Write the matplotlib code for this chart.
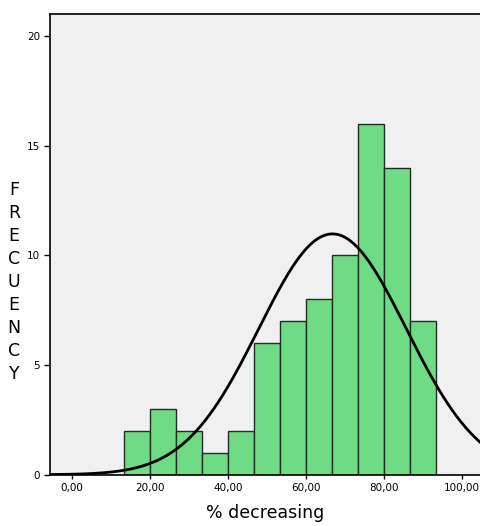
import numpy as np
import matplotlib
matplotlib.use("Agg")
import matplotlib.pyplot as plt

# Data
bin_edges = [40/3 + i * 20/3 for i in range(13)]
counts = [2, 3, 2, 1, 2, 6, 7, 8, 10, 16, 14, 7]
n_total = sum(counts)
mean_val = 66.8
sd_val = 18.9
xtick_vals = [0, 20, 40, 60, 80, 100]
xtick_labels = ["0,00", "20,00", "40,00", "60,00", "80,00", "100,00"]
ytick_vals = [0, 5, 10, 15, 20]
ylabel_letters = list("FRECUENCY")

W, H = 480, 526
fig = plt.figure(figsize=(W/100, H/100), dpi=100)
fig.patch.set_facecolor("white")
ax = fig.add_axes([50/W, (H-474.7)/H, (480-50)/W, (474.7-14)/H])
ax.set_facecolor("#f0f0f0")

widths = np.diff(bin_edges)
ax.bar(bin_edges[:-1], counts, width=widths, align="edge",
       color="#6fdc85", edgecolor="#1e2e22", linewidth=1.0, zorder=2)

bw = widths[0]
xs = np.linspace(-6, 106, 600)
ys = n_total * bw / (sd_val * np.sqrt(2*np.pi)) * np.exp(-0.5*((xs-mean_val)/sd_val)**2)
ax.plot(xs, ys, color="black", linewidth=2.0, zorder=3)

ax.set_xlim(-5.6, 104.6)
ax.set_ylim(0, 21)
ax.set_xticks(xtick_vals)
ax.set_xticklabels(xtick_labels, fontsize=7.5)
ax.set_yticks(ytick_vals)
ax.set_yticklabels([str(v) for v in ytick_vals], fontsize=7.5)
ax.tick_params(axis="both", direction="out", length=4, width=1, pad=3)
ax.tick_params(axis="x", length=3)
for s in ["left", "top", "bottom"]:
    ax.spines[s].set_linewidth(1.2)
ax.spines["right"].set_visible(False)

ax.set_xlabel("% decreasing", fontsize=12.5, labelpad=8)

# Stacked vertical y label
y0 = 190
for i, ch in enumerate(ylabel_letters):
    fig.text(14/W, 1 - (y0 + i*23)/H, ch, fontsize=12.5, ha="center", va="center")

fig.savefig("out.png", dpi=100)
